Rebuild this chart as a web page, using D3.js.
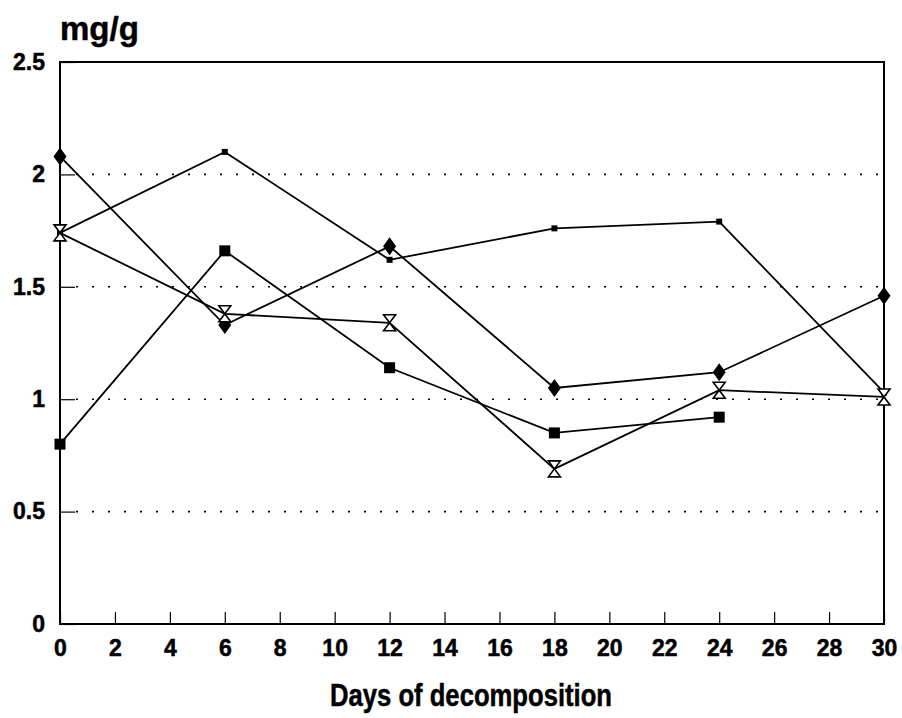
<!DOCTYPE html>
<html>
<head>
<meta charset="utf-8">
<script src="https://cdn.jsdelivr.net/npm/d3@7/dist/d3.min.js"></script>
<style>
  body { margin: 0; background: #fff; }
  svg text { font-family: "Liberation Sans", Arial, sans-serif; font-weight: bold; fill: #000; stroke: #000; stroke-width: 0.5px; }
</style>
</head>
<body>
<div id="chart"></div>
<script>
// days on the x axis
const days = [0, 6, 12, 18, 24, 30];
const xTicks = d3.range(0, 31, 2);
const yTicks = [0, 0.5, 1, 1.5, 2, 2.5];
const gridValues = [0.5, 1, 1.5, 2];

// series values (mg/g), null = no measurement
const diamondSeries = [2.08, 1.33, 1.68, 1.05, 1.12, 1.46];
const dotSeries = [1.74, 2.1, 1.62, 1.76, 1.79, 1.03];
const squareSeries = [0.8, 1.66, 1.14, 0.85, 0.92, null];
const hourglassSeries = [1.74, 1.38, 1.34, 0.69, 1.04, 1.01];

const W = 902, H = 718;
const margin = { top: 62, right: 18, bottom: 94, left: 60 };
const width = W - margin.left - margin.right;
const height = H - margin.top - margin.bottom;

const svg = d3.select("#chart").append("svg")
    .attr("width", W).attr("height", H);
const g = svg.append("g").attr("transform", `translate(${margin.left},${margin.top})`);

const x = d3.scaleLinear().domain([0, 30]).range([0, width]);
const y = d3.scaleLinear().domain([0, 2.5]).range([height, 0]);

// dotted grid lines
g.selectAll(".grid").data(gridValues).enter().append("line")
    .attr("x1", 16).attr("x2", width - 4)
    .attr("y1", d => y(d)).attr("y2", d => y(d))
    .attr("stroke", "#000").attr("stroke-width", 1.6)
    .attr("stroke-dasharray", "2,14");

// frame
g.append("rect").attr("width", width).attr("height", height)
    .attr("fill", "none").attr("stroke", "#000").attr("stroke-width", 2);

// axes with inward ticks
const xAxis = g.append("g").attr("transform", `translate(0,${height})`)
    .call(d3.axisBottom(x).tickValues(xTicks).tickSize(-12).tickPadding(16).tickFormat(d3.format("d")));
const yAxis = g.append("g")
    .call(d3.axisLeft(y).tickValues(yTicks).tickSize(-15).tickPadding(28).tickFormat(d => d));
[xAxis, yAxis].forEach(a => {
    a.select(".domain").remove();
    a.selectAll(".tick line").attr("stroke", "#000").attr("stroke-width", 1.2);
    a.selectAll(".tick text").style("font-size", "23px")
        .style("font-family", "'Liberation Sans', Arial, sans-serif").style("font-weight", "bold");
});
yAxis.selectAll(".tick text").attr("x", -15);
yAxis.selectAll(".tick line").attr("x2", 15);

// titles
svg.append("text").attr("x", 60).attr("y", 40).style("font-size", "33px").text("mg/g");
svg.append("text").attr("x", 330).attr("y", 706)
    .attr("textLength", 282).attr("lengthAdjust", "spacingAndGlyphs")
    .style("font-size", "32px").text("Days of decomposition");

const line = d3.line()
    .defined(d => d.v != null)
    .x(d => x(d.day)).y(d => y(d.v));

const series = [
    { values: diamondSeries, marker: "diamond" },
    { values: dotSeries, marker: "dot" },
    { values: squareSeries, marker: "square" },
    { values: hourglassSeries, marker: "hourglass" }
];

series.forEach(s => {
    const pts = days.map((day, i) => ({ day, v: s.values[i] })).filter(d => d.v != null);
    g.append("path").datum(pts).attr("d", line)
        .attr("fill", "none").attr("stroke", "#000").attr("stroke-width", 1.8);
});

function drawMarker(sel, type) {
    if (type === "diamond") {
        sel.append("path").attr("d", "M0,-9L6.5,0L0,9L-6.5,0Z").attr("fill", "#000");
    } else if (type === "dot") {
        sel.append("rect").attr("x", -3).attr("y", -3).attr("width", 6).attr("height", 6).attr("fill", "#000");
    } else if (type === "square") {
        sel.append("rect").attr("x", -5.5).attr("y", -5.5).attr("width", 11).attr("height", 11).attr("fill", "#000");
    } else if (type === "hourglass") {
        sel.append("path").attr("d", "M-6,-8L6,-8L0,0Z M-6,8L6,8L0,0Z")
            .attr("fill", "#fff").attr("stroke", "#000").attr("stroke-width", 1.6);
    }
}

series.forEach(s => {
    days.forEach((day, i) => {
        const v = s.values[i];
        if (v == null) return;
        const m = g.append("g").attr("transform", `translate(${x(day)},${y(v)})`);
        drawMarker(m, s.marker);
    });
});
</script>
</body>
</html>
